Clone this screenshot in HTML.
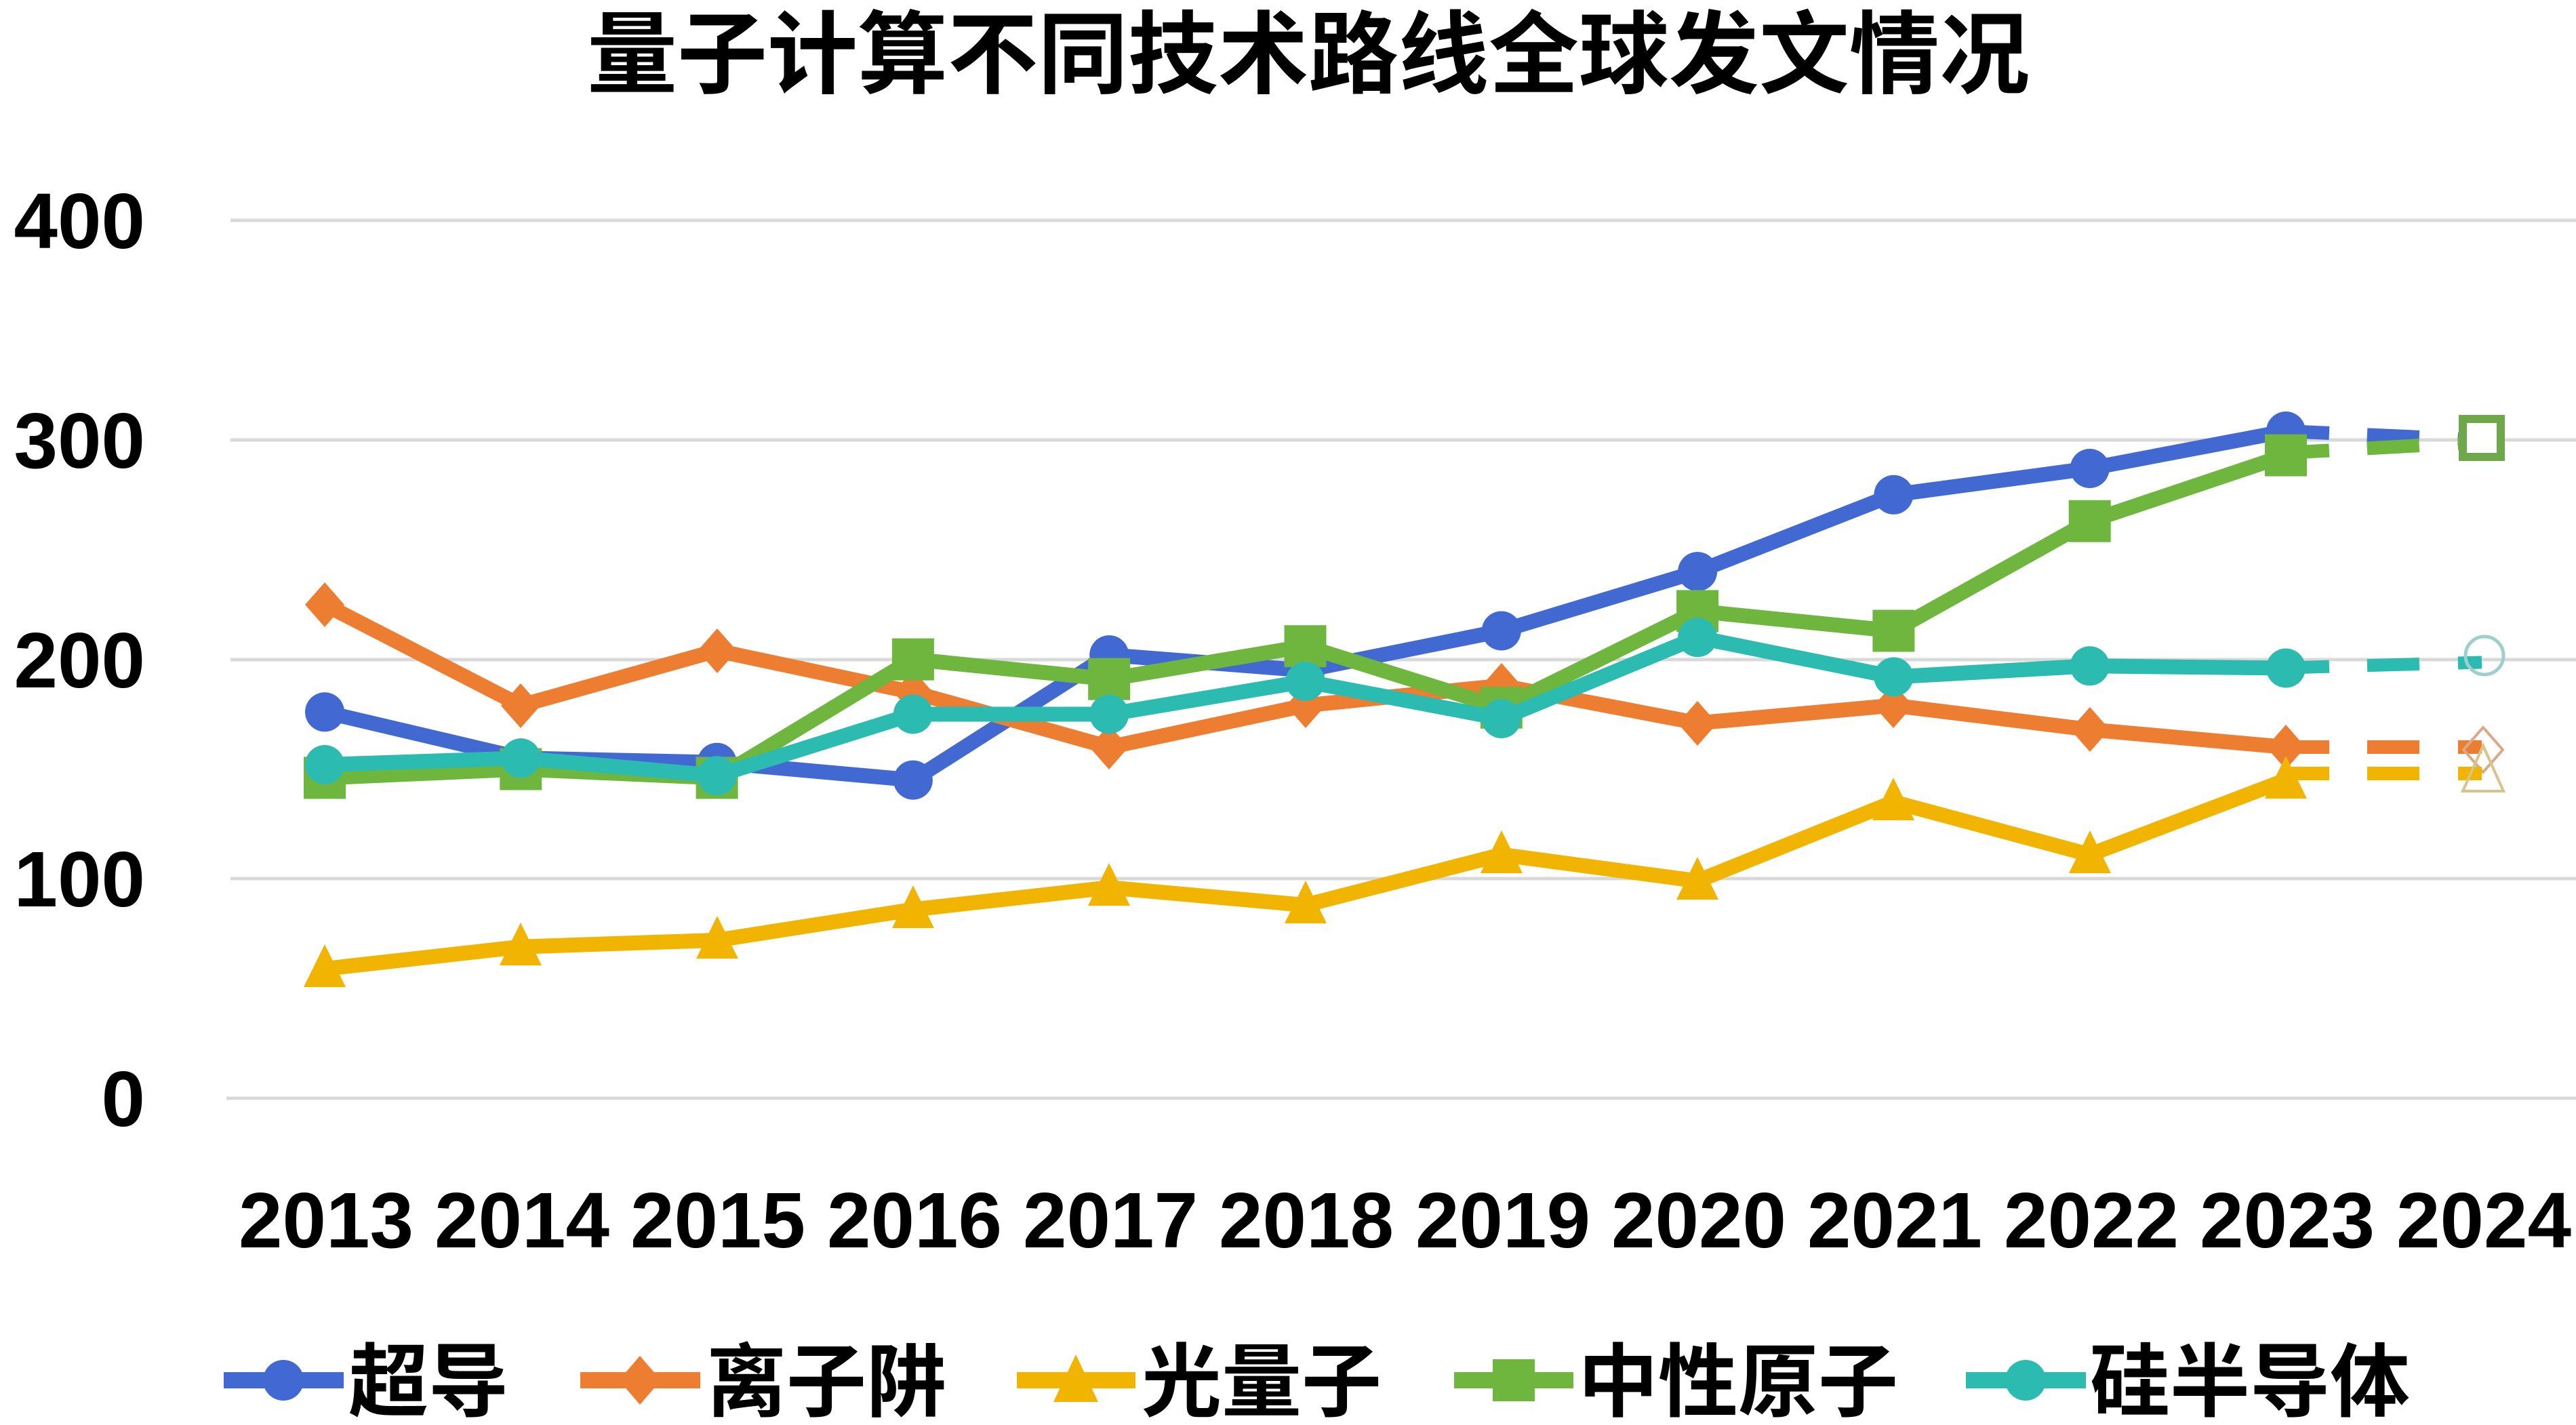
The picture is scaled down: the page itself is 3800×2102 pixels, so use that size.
<!DOCTYPE html>
<html>
<head>
<meta charset="utf-8">
<style>
html,body{margin:0;padding:0;background:#ffffff;}
svg{display:block;}
text{font-family:"Liberation Sans","Noto Sans CJK SC",sans-serif;font-weight:bold;fill:#000;}
</style>
</head>
<body>
<svg width="3800" height="2102" viewBox="0 0 3800 2102" xmlns="http://www.w3.org/2000/svg">
<rect x="0" y="0" width="3800" height="2102" fill="#ffffff"/>

<!-- Title -->
<text x="1930" y="127" font-size="133" text-anchor="middle">量子计算不同技术路线全球发文情况</text>

<!-- Gridlines -->
<g stroke="#d9d9d9" stroke-width="5">
<line x1="340" y1="325" x2="3800" y2="325"/>
<line x1="340" y1="649" x2="3800" y2="649"/>
<line x1="340" y1="973" x2="3800" y2="973"/>
<line x1="340" y1="1296" x2="3800" y2="1296"/>
<line x1="334" y1="1620" x2="3800" y2="1620"/>
</g>

<!-- Y labels -->
<g font-size="116" text-anchor="end">
<text x="214" y="366">400</text>
<text x="214" y="690">300</text>
<text x="214" y="1014">200</text>
<text x="214" y="1337">100</text>
<text x="214" y="1661">0</text>
</g>

<!-- X labels -->
<g font-size="116" text-anchor="middle">
<text x="481" y="1840">2013</text>
<text x="770" y="1840">2014</text>
<text x="1059" y="1840">2015</text>
<text x="1349" y="1840">2016</text>
<text x="1638" y="1840">2017</text>
<text x="1927" y="1840">2018</text>
<text x="2217" y="1840">2019</text>
<text x="2506" y="1840">2020</text>
<text x="2795" y="1840">2021</text>
<text x="3085" y="1840">2022</text>
<text x="3374" y="1840">2023</text>
<text x="3664" y="1840">2024</text>
</g>

<!-- Series: 超导 (blue) -->
<g>
<polyline fill="none" stroke="#4169d1" stroke-width="22" stroke-linejoin="round" points="479,1050.3 768.3,1118.3 1057.6,1124.7 1346.9,1150.6 1636.2,966.1 1925.5,988.8 2214.8,930.5 2504.1,843.1 2793.4,729.8 3082.7,691 3372,636"/>
<line x1="3372" y1="636" x2="3661" y2="649" stroke="#4169d1" stroke-width="20" stroke-dasharray="64 56 77 57 45 400"/>
<circle cx="3661" cy="649" r="27" fill="#fff" stroke="#4169d1" stroke-width="8"/>
<g fill="#4169d1">
<circle cx="479" cy="1050.3" r="29"/>
<circle cx="768.3" cy="1118.3" r="29"/>
<circle cx="1057.6" cy="1124.7" r="29"/>
<circle cx="1346.9" cy="1150.6" r="29"/>
<circle cx="1636.2" cy="966.1" r="29"/>
<circle cx="1925.5" cy="988.8" r="29"/>
<circle cx="2214.8" cy="930.5" r="29"/>
<circle cx="2504.1" cy="843.1" r="29"/>
<circle cx="2793.4" cy="729.8" r="29"/>
<circle cx="3082.7" cy="691" r="29"/>
<circle cx="3372" cy="636" r="29"/>
</g>
</g>

<!-- Series: 离子阱 (orange) -->
<g>
<polyline fill="none" stroke="#ed7d31" stroke-width="22" stroke-linejoin="round" points="479,891.7 768.3,1040.6 1057.6,959.7 1346.9,1021.2 1636.2,1102.1 1925.5,1040.6 2214.8,1011.4 2504.1,1066.5 2793.4,1040.6 3082.7,1076.2 3372,1102.1"/>
<line x1="3372" y1="1102" x2="3661" y2="1102" stroke="#ed7d31" stroke-width="20" stroke-dasharray="64 56 77 57 45 400"/>
<polygon points="3663,1073 3692,1106 3663,1139 3634,1106" fill="none" stroke="#d9a98a" stroke-width="4"/>
<g fill="#ed7d31">
<polygon points="479,859 508,892 479,925 450,892"/>
<polygon points="768,1008 797,1041 768,1074 739,1041"/>
<polygon points="1058,927 1087,960 1058,993 1029,960"/>
<polygon points="1347,988 1376,1021 1347,1054 1318,1021"/>
<polygon points="1636,1069 1665,1102 1636,1135 1607,1102"/>
<polygon points="1926,1008 1955,1041 1926,1074 1897,1041"/>
<polygon points="2215,978 2244,1011 2215,1044 2186,1011"/>
<polygon points="2504,1034 2533,1067 2504,1100 2475,1067"/>
<polygon points="2793,1008 2822,1041 2793,1074 2764,1041"/>
<polygon points="3083,1043 3112,1076 3083,1109 3054,1076"/>
<polygon points="3372,1069 3401,1102 3372,1135 3343,1102"/>
</g>
</g>

<!-- Series: 光量子 (yellow) -->
<g>
<polyline fill="none" stroke="#f1b400" stroke-width="22" stroke-linejoin="round" points="479,1429 768.3,1396.6 1057.6,1386.9 1346.9,1341.6 1636.2,1309.2 1925.5,1335.1 2214.8,1260.7 2504.1,1299.5 2793.4,1183 3082.7,1260.7 3372,1150.6"/>
<line x1="3372" y1="1141" x2="3661" y2="1141" stroke="#f1b400" stroke-width="20" stroke-dasharray="64 56 77 57 45 400"/>
<polygon points="3663,1100 3693,1167 3633,1167" fill="none" stroke="#d8c38a" stroke-width="4"/>
<g fill="#f1b400">
<polygon points="479,1393 510,1456 448,1456"/>
<polygon points="768,1361 799,1424 737,1424"/>
<polygon points="1058,1351 1089,1414 1027,1414"/>
<polygon points="1347,1306 1378,1369 1316,1369"/>
<polygon points="1636,1273 1667,1336 1605,1336"/>
<polygon points="1926,1299 1957,1362 1895,1362"/>
<polygon points="2215,1225 2246,1288 2184,1288"/>
<polygon points="2504,1264 2535,1327 2473,1327"/>
<polygon points="2793,1147 2824,1210 2762,1210"/>
<polygon points="3083,1225 3114,1288 3052,1288"/>
<polygon points="3372,1115 3403,1178 3341,1178"/>
</g>
</g>

<!-- Series: 中性原子 (green) -->
<g>
<polyline fill="none" stroke="#6fb63e" stroke-width="22" stroke-linejoin="round" points="479,1147.4 768.3,1134.5 1057.6,1147.4 1346.9,972.6 1636.2,1001.7 1925.5,953.2 2214.8,1043.8 2504.1,901.4 2793.4,930.5 3082.7,768.7 3372,671.6"/>
<line x1="3372" y1="668" x2="3661" y2="652" stroke="#6fb63e" stroke-width="20" stroke-dasharray="64 56 77 57 45 400"/>
<rect x="3633" y="618" width="56" height="56" fill="#fff" stroke="#6fa84a" stroke-width="12"/>
<g fill="#6fb63e">
<rect x="448" y="1116.4" width="62" height="62"/>
<rect x="737.3" y="1103.5" width="62" height="62"/>
<rect x="1026.6" y="1116.4" width="62" height="62"/>
<rect x="1315.9" y="941.6" width="62" height="62"/>
<rect x="1605.2" y="970.7" width="62" height="62"/>
<rect x="1894.5" y="922.2" width="62" height="62"/>
<rect x="2183.8" y="1012.8" width="62" height="62"/>
<rect x="2473.1" y="870.4" width="62" height="62"/>
<rect x="2762.4" y="899.5" width="62" height="62"/>
<rect x="3051.7" y="737.7" width="62" height="62"/>
<rect x="3341" y="640.6" width="62" height="62"/>
</g>
</g>

<!-- Series: 硅半导体 (teal) -->
<g>
<polyline fill="none" stroke="#2bbbb0" stroke-width="22" stroke-linejoin="round" points="479,1128 768.3,1118.3 1057.6,1144.2 1346.9,1053.5 1636.2,1053.5 1925.5,1005 2214.8,1060 2504.1,940.2 2793.4,998.5 3082.7,982.3 3372,985.5"/>
<line x1="3372" y1="985" x2="3661" y2="977" stroke="#2bbbb0" stroke-width="19" stroke-dasharray="64 56 77 57 45 400"/>
<circle cx="3665" cy="967" r="28" fill="none" stroke="#9fcfcb" stroke-width="5"/>
<g fill="#2bbbb0">
<circle cx="479" cy="1128" r="29"/>
<circle cx="768.3" cy="1118.3" r="29"/>
<circle cx="1057.6" cy="1144.2" r="29"/>
<circle cx="1346.9" cy="1053.5" r="29"/>
<circle cx="1636.2" cy="1053.5" r="29"/>
<circle cx="1925.5" cy="1005" r="29"/>
<circle cx="2214.8" cy="1060" r="29"/>
<circle cx="2504.1" cy="940.2" r="29"/>
<circle cx="2793.4" cy="998.5" r="29"/>
<circle cx="3082.7" cy="982.3" r="29"/>
<circle cx="3372" cy="985.5" r="29"/>
</g>
</g>

<!-- Legend -->
<g>
<line x1="330" y1="2036" x2="507" y2="2036" stroke="#4169d1" stroke-width="24"/>
<circle cx="418" cy="2036" r="30" fill="#4169d1"/>
<text x="514" y="2080" font-size="118">超导</text>

<line x1="856" y1="2036" x2="1033" y2="2036" stroke="#ed7d31" stroke-width="24"/>
<polygon points="944,2000 975,2036 944,2072 913,2036" fill="#ed7d31"/>
<text x="1042" y="2080" font-size="118">离子阱</text>

<line x1="1500" y1="2036" x2="1675" y2="2036" stroke="#f1b400" stroke-width="24"/>
<polygon points="1587,1998 1620,2068 1554,2068" fill="#f1b400"/>
<text x="1684" y="2080" font-size="118">光量子</text>

<line x1="2145" y1="2036" x2="2321" y2="2036" stroke="#6fb63e" stroke-width="24"/>
<rect x="2202" y="2005" width="62" height="62" fill="#6fb63e"/>
<text x="2328" y="2080" font-size="118">中性原子</text>

<line x1="2900" y1="2036" x2="3077" y2="2036" stroke="#2bbbb0" stroke-width="24"/>
<circle cx="2988" cy="2036" r="30" fill="#2bbbb0"/>
<text x="3083" y="2080" font-size="118">硅半导体</text>
</g>
</svg>
</body>
</html>
